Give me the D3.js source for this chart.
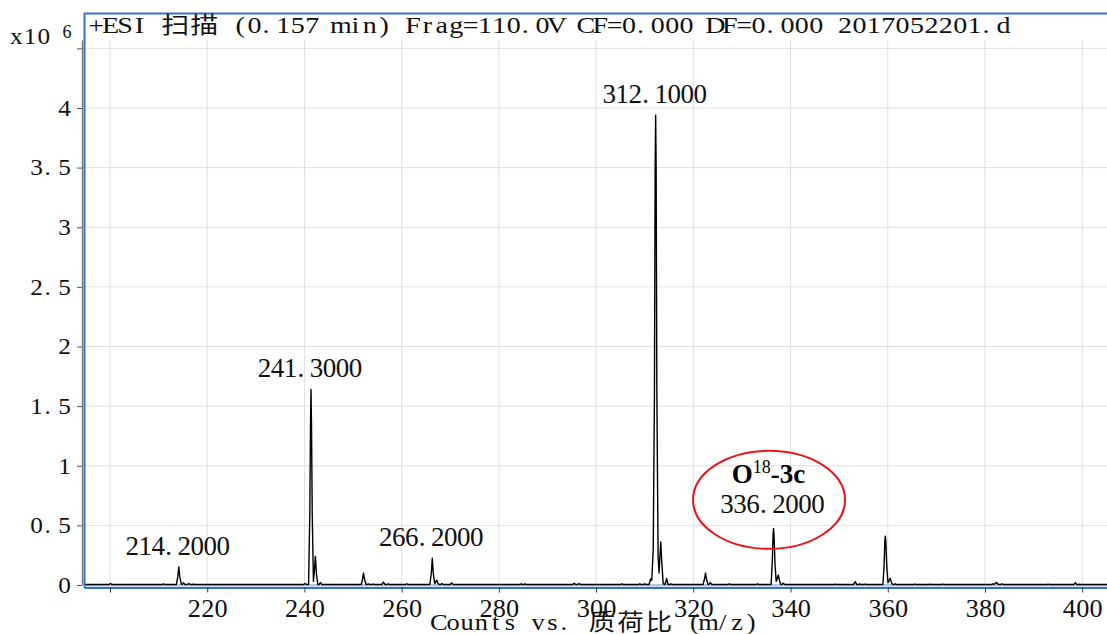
<!DOCTYPE html>
<html>
<head>
<meta charset="utf-8">
<script src="https://cdn.jsdelivr.net/npm/d3@7/dist/d3.min.js"></script>
<style>
  body { margin: 0; background: #fff; }
  svg { display: block; }
</style>
</head>
<body>
<script>
// Tick values of both axes
const mzTicks = [200, 220, 240, 260, 280, 300, 320, 340, 360, 380, 400];
const mzTickLabels = ["", "220", "240", "260", "280", "300", "320", "340", "360", "380", "400"];
const countTicks = [0, 0.5, 1, 1.5, 2, 2.5, 3, 3.5, 4, 4.5];
const countTickLabels = ["0", "0.5", "1", "1.5", "2", "2.5", "3", "3.5", "4", ""];

// Profile spectrum: [m/z, counts x10^6]
const spectrum = [
  [194.7, 0.004],
  [199.8, 0.004], [200.1, 0.012], [200.4, 0.004],
  [210.7, 0.004], [211.0, 0.010], [211.3, 0.004],
  [213.65, 0.004], [213.95, 0.07], [214.15, 0.152], [214.35, 0.07], [214.7, 0.006],
  [214.85, 0.005], [215.1, 0.018], [215.4, 0.005],
  [215.9, 0.004], [216.2, 0.012], [216.5, 0.004],
  [216.9, 0.004], [217.2, 0.008], [217.5, 0.004],
  [239.8, 0.004], [240.1, 0.012], [240.4, 0.004],
  [240.85, 0.004], [241.1, 0.6], [241.25, 1.35], [241.35, 1.64], [241.45, 1.35], [241.6, 0.6], [241.85, 0.03],
  [242.05, 0.12], [242.25, 0.24], [242.45, 0.1], [242.75, 0.004],
  [243.0, 0.004], [243.3, 0.02], [243.6, 0.004],
  [251.7, 0.004], [251.95, 0.05], [252.15, 0.10], [252.35, 0.05], [252.65, 0.006],
  [252.9, 0.004], [253.2, 0.01], [253.5, 0.004],
  [253.8, 0.004], [254.1, 0.008], [254.4, 0.004],
  [255.9, 0.004], [256.25, 0.025], [256.6, 0.004],
  [256.9, 0.004], [257.2, 0.01], [257.5, 0.004],
  [260.8, 0.004], [261.1, 0.01], [261.4, 0.004],
  [265.8, 0.004], [266.1, 0.1], [266.3, 0.224], [266.5, 0.1], [266.8, 0.012],
  [267.05, 0.03], [267.25, 0.04], [267.5, 0.01], [267.8, 0.004],
  [268.0, 0.004], [268.25, 0.012], [268.5, 0.004],
  [270.0, 0.004], [270.3, 0.018], [270.6, 0.004],
  [284.3, 0.004], [284.6, 0.01], [284.9, 0.004],
  [285.1, 0.004], [285.4, 0.01], [285.7, 0.004],
  [295.2, 0.004], [295.5, 0.014], [295.8, 0.004],
  [296.2, 0.004], [296.5, 0.012], [296.8, 0.004],
  [305.0, 0.004], [305.3, 0.01], [305.6, 0.004],
  [308.7, 0.004], [309.0, 0.01], [309.3, 0.004],
  [309.7, 0.004], [310.0, 0.01], [310.3, 0.004],
  [310.9, 0.004], [311.2, 0.05], [311.45, 0.04],
  [311.75, 0.3], [312.0, 1.6], [312.15, 3.5], [312.25, 3.94], [312.35, 3.5], [312.5, 1.6], [312.75, 0.25],
  [312.95, 0.1], [313.1, 0.22], [313.3, 0.36], [313.5, 0.2], [313.8, 0.01],
  [314.2, 0.004], [314.5, 0.055], [314.8, 0.004],
  [315.1, 0.004], [315.4, 0.01], [315.7, 0.004],
  [322.0, 0.004], [322.3, 0.05], [322.5, 0.10], [322.7, 0.05], [323.0, 0.006],
  [323.2, 0.004], [323.5, 0.02], [323.8, 0.004],
  [327.1, 0.004], [327.4, 0.01], [327.7, 0.004],
  [332.9, 0.004], [333.2, 0.01], [333.5, 0.004],
  [336.0, 0.004], [336.25, 0.2], [336.4, 0.42], [336.5, 0.475], [336.6, 0.42], [336.8, 0.18], [337.05, 0.03],
  [337.3, 0.06], [337.5, 0.084], [337.7, 0.04], [338.0, 0.004],
  [338.2, 0.004], [338.5, 0.015], [338.8, 0.004],
  [348.9, 0.004], [349.2, 0.008], [349.5, 0.004],
  [352.95, 0.004], [353.3, 0.028], [353.65, 0.004],
  [354.0, 0.004], [354.25, 0.01], [354.5, 0.004],
  [355.0, 0.004], [355.3, 0.008], [355.6, 0.004],
  [359.0, 0.004], [359.25, 0.17], [359.4, 0.37], [359.5, 0.41], [359.6, 0.37], [359.8, 0.15], [360.05, 0.02],
  [360.3, 0.04], [360.5, 0.056], [360.7, 0.025], [361.0, 0.004],
  [361.2, 0.004], [361.5, 0.01], [361.8, 0.004],
  [365.3, 0.004], [365.6, 0.007], [365.9, 0.004],
  [368.4, 0.004], [368.7, 0.007], [369.0, 0.004],
  [371.1, 0.004], [371.4, 0.007], [371.7, 0.004],
  [381.3, 0.004], [381.6, 0.01], [381.9, 0.006],
  [382.4, 0.022], [382.7, 0.006],
  [383.2, 0.004], [383.5, 0.01], [383.8, 0.004],
  [392.7, 0.004], [393.0, 0.007], [393.3, 0.004],
  [398.3, 0.004], [398.6, 0.02], [398.9, 0.004],
  [399.2, 0.004], [399.4, 0.006], [399.6, 0.004],
  [405.1, 0.004]
];

// Annotated peaks
const peakMz = [214.15, 241.35, 266.3, 312.25, 336.5];
const peakCounts = [0.152, 1.64, 0.224, 3.94, 0.475];
const peakText = ["214.2000", "241.3000", "266.2000", "312.1000", "336.2000"];

const titleText = "+ESI 扫描 (0.157 min) Frag=110.0V CF=0.000 DF=0.000 2017052201.d";
const xTitle = "Counts vs. 质荷比 (m/z)";

const W = 1107, H = 634;
const serif = "'Liberation Serif', 'Noto Sans CJK SC', serif";
const blue = "#3b6fc9";

const svg = d3.select("body").append("svg")
  .attr("width", W).attr("height", H)
  .style("font-family", serif);

const x = d3.scaleLinear().domain([194.65, 405.1]).range([84, 1107]);
const y = d3.scaleLinear().domain([0, 4.57]).range([585, 40]);

// The instrument font puts every character in a fixed cell (CJK = two cells).
// k stretches the glyphs sideways so they fill the cell like the original font.
// Each glyph is measured and centred in its cell.
function cellText(text, str, x0, cell, anchor, k = 1) {
  const chars = Array.from(str);
  const widths = chars.map(c => /[\u3000-\u9fff\uff00-\uffef]/.test(c) ? cell * 2 : cell);
  const total = d3.sum(widths);
  let left = anchor === "end" ? x0 - total : anchor === "middle" ? x0 - total / 2 : x0;
  text.text(null).attr("text-anchor", "start")
    .attr("transform", k !== 1 ? `scale(${k},1)` : null);
  chars.forEach((c, i) => {
    const cx = c === "." ? left + widths[i] * 0.3 : left + widths[i] / 2;
    const ts = text.append("tspan").attr("x", cx / k).text(c);
    const w = ts.node().getComputedTextLength();
    ts.attr("x", cx / k - w / 2);
    left += widths[i];
  });
}

// grid
svg.append("g").selectAll("line").data(mzTicks).join("line")
  .attr("x1", d => x(d)).attr("x2", d => x(d))
  .attr("y1", 40).attr("y2", 585)
  .attr("stroke", "#e0e0e0").attr("stroke-width", 1);
svg.append("g").selectAll("line").data(countTicks.slice(1)).join("line")
  .attr("x1", 83).attr("x2", W)
  .attr("y1", d => y(d)).attr("y2", d => y(d))
  .attr("stroke", "#e0e0e0").attr("stroke-width", 1);

// light band at the baseline
svg.append("rect").attr("x", 85).attr("y", 584).attr("width", W - 85).attr("height", 2.5)
  .attr("fill", "#a9c8ee");

// spectrum
const line = d3.line().x(d => x(d[0])).y(d => y(d[1]));
svg.append("path").datum(spectrum)
  .attr("d", line)
  .attr("fill", "none").attr("stroke", "#000").attr("stroke-width", 1.4)
  .attr("stroke-linejoin", "round");

// y axis
const gy = svg.append("g").attr("transform", "translate(82,0)")
  .call(d3.axisLeft(y).tickValues(countTicks).tickSize(5).tickSizeOuter(0));
gy.select(".domain").attr("stroke", "#808080").attr("stroke-width", 1.5);
gy.selectAll(".tick line").attr("stroke", "#555");
gy.selectAll(".tick text")
  .style("font-family", serif).style("font-size", "23px").attr("fill", "#111")
  .each(function (d, i) { cellText(d3.select(this), countTickLabels[i], -10.5, 14, "end", 1.1); });

// x axis (the blue frame line)
const gx = svg.append("g").attr("transform", "translate(0,587.5)")
  .call(d3.axisBottom(x).tickValues(mzTicks).tickSize(5).tickSizeOuter(0));
gx.select(".domain").attr("stroke", blue).attr("stroke-width", 1.8);
gx.selectAll(".tick line").attr("stroke", "#333");
gx.selectAll(".tick text")
  .style("font-family", serif).style("font-size", "25px").attr("fill", "#111")
  .attr("y", 29.5).attr("dy", null)
  .each(function (d, i) { cellText(d3.select(this), mzTickLabels[i], 0, 13.3, "middle", 1.05); });

// blue frame left and top
svg.append("line").attr("x1", 84.5).attr("x2", 84.5).attr("y1", 13).attr("y2", 588)
  .attr("stroke", blue).attr("stroke-width", 2);
svg.append("line").attr("x1", 84).attr("x2", W).attr("y1", 13.5).attr("y2", 13.5)
  .attr("stroke", blue).attr("stroke-width", 2);

// title
const title = svg.append("text").attr("y", 33)
  .style("font-size", "23px").attr("fill", "#111");
cellText(title, titleText, 89, 14.4, "start", 1.22);

// x10^6
const mult = svg.append("text").attr("y", 44).style("font-size", "23px").attr("fill", "#111");
cellText(mult, "x10", 9.5, 13.7, "start", 1.1);
svg.append("text").attr("x", 67).attr("y", 38).attr("text-anchor", "middle")
  .style("font-size", "18px").attr("fill", "#111").text("6");

// x axis title
const xt = svg.append("text").attr("y", 630).style("font-size", "23px").attr("fill", "#111");
cellText(xt, xTitle, 595, 14.2, "middle", 1.15);

// peak labels
peakText.forEach((t, i) => {
  const lab = svg.append("text")
    .attr("y", y(peakCounts[i]) - (i === 4 ? 15 : 12))
    .style("font-size", "27px").attr("fill", "#111");
  cellText(lab, t, x(peakMz[i]) - 1, 13, "middle");
});

// circled annotation of the O18 product
const px = x(peakMz[4]), py = y(peakCounts[4]);
svg.append("ellipse").attr("cx", px - 4.5).attr("cy", py - 28.5)
  .attr("rx", 76).attr("ry", 49)
  .attr("fill", "none").attr("stroke", "#e8141b").attr("stroke-width", 2);
const ann = svg.append("text").attr("x", px - 5).attr("y", py - 45)
  .attr("text-anchor", "middle").attr("fill", "#000")
  .style("font-family", "'Liberation Serif', serif");
ann.append("tspan").style("font-size", "27px").style("font-weight", "bold").text("O");
ann.append("tspan").style("font-size", "18px").attr("dy", -10).text("18");
ann.append("tspan").style("font-size", "27px").style("font-weight", "bold").attr("dy", 10).text("-3c");
</script>
</body>
</html>
